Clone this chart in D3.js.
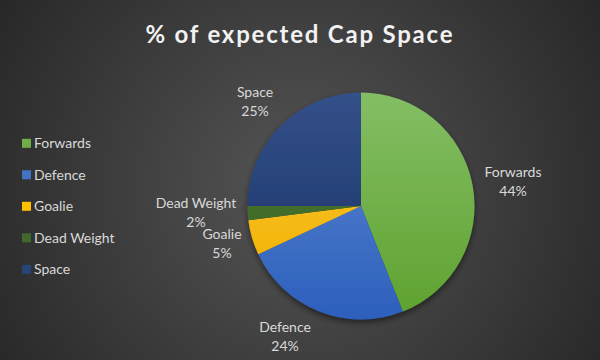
<!DOCTYPE html>
<html><head><meta charset="utf-8">
<script src="https://cdn.jsdelivr.net/npm/d3@7"></script>
<style>html,body{margin:0;padding:0;background:#2b2b2b;}svg{display:block;}</style>
</head><body>
<script>
const categories = ["Forwards", "Defence", "Goalie", "Dead Weight", "Space"];
const values = [44, 24, 5, 2, 25];
const colorsTop = ["#84be64", "#6089d2", "#ffcb2e", "#4f7a34", "#34508a"];
const colorsBottom = ["#5ea22f", "#2c5fbc", "#eeac00", "#386024", "#173163"];
const legendColors = ["#70ad47", "#4472c4", "#ffc000", "#43682b", "#264478"];
const title = "% of expected Cap Space";

const W = 600, H = 360;
const svg = d3.select("body").append("svg").attr("width", W).attr("height", H);
const defs = svg.append("defs");

const bg = defs.append("radialGradient").attr("id", "bg")
  .attr("gradientUnits", "userSpaceOnUse").attr("cx", 300).attr("cy", 190).attr("r", 360);
bg.append("stop").attr("offset", "0%").attr("stop-color", "#555555");
bg.append("stop").attr("offset", "100%").attr("stop-color", "#272727");
svg.append("rect").attr("width", W).attr("height", H).attr("fill", "url(#bg)");

const cx = 361, cy = 206, R = 113.5;

const shadow = defs.append("filter").attr("id", "sh").attr("x", "-20%").attr("y", "-20%").attr("width", "140%").attr("height", "140%");
shadow.append("feGaussianBlur").attr("in", "SourceAlpha").attr("stdDeviation", 3);
shadow.append("feOffset").attr("dx", 0).attr("dy", 3).attr("result", "b");
shadow.append("feComponentTransfer").append("feFuncA").attr("type", "linear").attr("slope", 0.5);
const m = shadow.append("feMerge"); m.append("feMergeNode"); m.append("feMergeNode").attr("in", "SourceGraphic");

categories.forEach((c, i) => {
  const g = defs.append("linearGradient").attr("id", "g" + i)
    .attr("gradientUnits", "userSpaceOnUse")
    .attr("x1", 0).attr("y1", -R).attr("x2", 0).attr("y2", R);
  g.append("stop").attr("offset", "0%").attr("stop-color", colorsTop[i]);
  g.append("stop").attr("offset", "100%").attr("stop-color", colorsBottom[i]);
});

// Title
svg.append("text").attr("x", 299).attr("y", 43).attr("text-anchor", "middle")
  .attr("font-family", "Lato, 'Open Sans', sans-serif").attr("font-weight", "bold")
  .attr("font-size", 24).attr("fill", "#f2f2f2")
  .attr("textLength", 307).attr("lengthAdjust", "spacing")
  .text(title);

const data = categories.map((c, i) => ({ name: c, value: values[i], i }));
const pie = d3.pie().value(d => d.value).sort(null);
const arc = d3.arc().innerRadius(0).outerRadius(R);
const arcs = pie(data);

const pg = svg.append("g").attr("transform", `translate(${cx},${cy})`).attr("filter", "url(#sh)");
pg.selectAll("path").data(arcs).join("path")
  .attr("d", arc)
  .attr("fill", d => `url(#g${d.data.i})`);

// Data labels
const labelPos = {
  "Forwards": [513, 177],
  "Defence": [285, 332],
  "Goalie": [222, 239],
  "Dead Weight": [196, 208],
  "Space": [255, 97]
};
const font = "Lato, 'Open Sans', sans-serif";
const lg = svg.append("g").attr("font-family", font).attr("font-size", 14).attr("fill", "#d9d9d9");
arcs.forEach(d => {
  const p = labelPos[d.data.name];
  const t = lg.append("text").attr("x", p[0]).attr("y", p[1]).attr("text-anchor", "middle");
  t.append("tspan").attr("x", p[0]).text(d.data.name);
  t.append("tspan").attr("x", p[0]).attr("dy", 18.5).text(Math.round(d.data.value / d3.sum(values) * 100) + "%");
});

// Legend
const leg = svg.append("g").attr("font-family", font).attr("font-size", 14).attr("fill", "#d9d9d9");
const ly = d3.scalePoint().domain(categories).range([143.3, 269.3]);
categories.forEach((c, i) => {
  const y = ly(c);
  leg.append("rect").attr("x", 22).attr("y", y - 4.5).attr("width", 9).attr("height", 9).attr("fill", legendColors[i]);
  leg.append("text").attr("x", 34).attr("y", y + 5).text(c);
});
</script>
</body></html>
